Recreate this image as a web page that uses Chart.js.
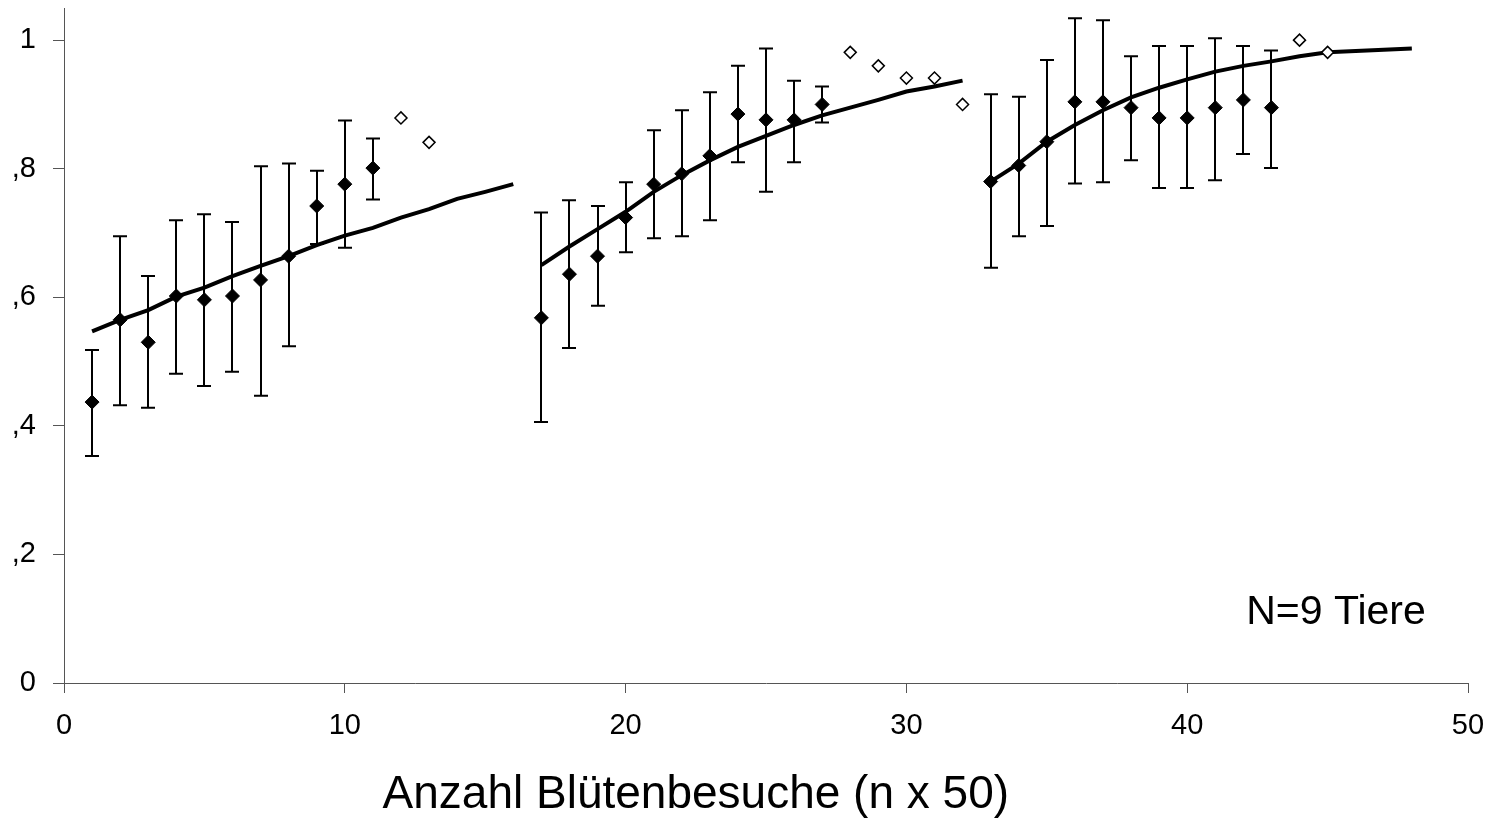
<!DOCTYPE html>
<html>
<head>
<meta charset="utf-8">
<script src="https://cdn.jsdelivr.net/npm/chart.js@4"></script>
<style>
  body { margin: 0; background: #fff; }
  canvas { display: block; }
</style>
</head>
<body>
<canvas id="chart" width="1495" height="839"></canvas>
<script>
// mittelwerte mit fehlerbalken (gefuellte rauten)
const meanX = [1, 2, 3, 4, 5, 6, 7, 8, 9, 10, 11,
               17, 18, 19, 20, 21, 22, 23, 24, 25, 26, 27,
               33, 34, 35, 36, 37, 38, 39, 40, 41, 42, 43];
const meanY = [0.437, 0.565, 0.530, 0.602, 0.596, 0.602, 0.627, 0.664, 0.742, 0.776, 0.801,
               0.568, 0.636, 0.664, 0.724, 0.776, 0.792, 0.820, 0.885, 0.876, 0.876, 0.900,
               0.780, 0.805, 0.842, 0.904, 0.904, 0.895, 0.879, 0.879, 0.895, 0.907, 0.895];
const errHigh = [0.518, 0.695, 0.633, 0.720, 0.729, 0.717, 0.804, 0.808, 0.797, 0.875, 0.847,
                 0.732, 0.751, 0.742, 0.779, 0.860, 0.891, 0.919, 0.960, 0.987, 0.937, 0.928,
                 0.916, 0.912, 0.969, 1.034, 1.031, 0.975, 0.991, 0.991, 1.003, 0.991, 0.984];
const errLow = [0.353, 0.432, 0.428, 0.481, 0.462, 0.484, 0.447, 0.524, 0.683, 0.677, 0.752,
                0.406, 0.521, 0.587, 0.670, 0.692, 0.695, 0.720, 0.810, 0.764, 0.810, 0.872,
                0.646, 0.695, 0.711, 0.777, 0.779, 0.813, 0.770, 0.770, 0.782, 0.823, 0.801];

// einzelwerte ohne fehlerbalken (offene rauten)
const openX = [12, 13, 28, 29, 30, 31, 32, 44, 45];
const openY = [0.879, 0.841, 0.981, 0.960, 0.941, 0.941, 0.900, 1.000, 0.981];

// angepasste kurven
const fitX1 = [1, 2, 3, 4, 5, 6, 7, 8, 9, 10, 11, 12, 13, 14, 15, 16];
const fitY1 = [0.547, 0.565, 0.580, 0.601, 0.615, 0.633, 0.649, 0.664, 0.681, 0.696, 0.708, 0.724, 0.737, 0.753, 0.764, 0.776];
const fitX2 = [17, 18, 19, 20, 21, 22, 23, 24, 25, 26, 27, 28, 29, 30, 31, 32];
const fitY2 = [0.650, 0.679, 0.706, 0.733, 0.764, 0.790, 0.813, 0.834, 0.851, 0.868, 0.883, 0.895, 0.907, 0.920, 0.928, 0.937];
const fitX3 = [33, 34, 35, 36, 37, 38, 39, 40, 41, 42, 43, 44, 45, 46, 47, 48];
const fitY3 = [0.780, 0.808, 0.842, 0.868, 0.891, 0.911, 0.926, 0.939, 0.951, 0.960, 0.967, 0.975, 0.981, 0.983, 0.985, 0.987];

// achsen
const xTicks = [0, 10, 20, 30, 40, 50];
const yTicks = [0, 0.2, 0.4, 0.6, 0.8, 1];
const yTickLabels = ['0', ',2', ',4', ',6', ',8', '1'];
const xTitle = 'Anzahl Blütenbesuche (n x 50)';
const noteText = 'N=9 Tiere';

const FONT = 'Arial, "Liberation Sans", sans-serif';
const toPoints = (xs, ys) => xs.map((x, i) => ({ x: x, y: ys[i] }));

function fitDataset(xs, ys) {
    return {
        data: toPoints(xs, ys),
        showLine: true,
        borderColor: '#000',
        borderWidth: 4,
        pointRadius: 0,
        tension: 0,
        fill: false,
        order: 3
    };
}

// fehlerbalken hinter den rauten
const errorBars = {
    id: 'errorBars',
    beforeDatasetsDraw(chart) {
        const { ctx, scales: { x, y } } = chart;
        ctx.save();
        ctx.strokeStyle = '#000';
        ctx.lineWidth = 2;
        meanX.forEach((v, i) => {
            const px = Math.round(x.getPixelForValue(v));
            const top = y.getPixelForValue(errHigh[i]);
            const bot = y.getPixelForValue(errLow[i]);
            ctx.beginPath();
            ctx.moveTo(px, top);
            ctx.lineTo(px, bot);
            ctx.moveTo(px - 7, top);
            ctx.lineTo(px + 7, top);
            ctx.moveTo(px - 7, bot);
            ctx.lineTo(px + 7, bot);
            ctx.stroke();
        });
        ctx.restore();
    }
};

// achsentitel und hinweis
const texts = {
    id: 'texts',
    afterDraw(chart) {
        const { ctx, chartArea, scales: { x, y } } = chart;
        ctx.save();
        ctx.fillStyle = '#000';
        ctx.textBaseline = 'middle';
        ctx.textAlign = 'center';
        ctx.font = '46px ' + FONT;
        ctx.fillText(xTitle, x.getPixelForValue(22.5), chartArea.bottom + 112);
        ctx.textAlign = 'left';
        ctx.font = '41px ' + FONT;
        ctx.fillText(noteText, x.getPixelForValue(42.1), y.getPixelForValue(0.11));
        ctx.restore();
    }
};

new Chart(document.getElementById('chart'), {
    type: 'scatter',
    data: {
        datasets: [
            fitDataset(fitX1, fitY1),
            fitDataset(fitX2, fitY2),
            fitDataset(fitX3, fitY3),
            {
                data: toPoints(meanX, meanY),
                pointStyle: 'rectRot',
                pointRadius: 7,
                backgroundColor: '#000',
                borderColor: '#000',
                borderWidth: 1,
                order: 1
            },
            {
                data: toPoints(openX, openY),
                pointStyle: 'rectRot',
                pointRadius: 6,
                backgroundColor: '#fff',
                borderColor: '#000',
                borderWidth: 1.5,
                order: 1
            }
        ]
    },
    options: {
        responsive: false,
        animation: false,
        layout: { padding: { left: 0, right: 27, top: 8, bottom: 0 } },
        plugins: {
            legend: { display: false },
            tooltip: { enabled: false }
        },
        scales: {
            x: {
                type: 'linear',
                min: 0,
                max: 50,
                afterFit: (s) => { s.height = 156; s.paddingLeft = 0; s.paddingRight = 0; },
                afterBuildTicks: (s) => { s.ticks = xTicks.map(v => ({ value: v })); },
                grid: { drawOnChartArea: false, color: '#555', tickLength: 10, tickColor: '#555' },
                border: { color: '#555', width: 1 },
                ticks: { color: '#000', font: { family: FONT, size: 29 }, padding: 16, maxRotation: 0 }
            },
            y: {
                type: 'linear',
                min: 0,
                max: 1.05,
                afterFit: (s) => { s.width = 64; s.paddingTop = 0; s.paddingBottom = 0; },
                afterBuildTicks: (s) => { s.ticks = yTicks.map(v => ({ value: v })); },
                grid: { drawOnChartArea: false, color: '#555', tickLength: 11, tickColor: '#555' },
                border: { color: '#555', width: 1 },
                ticks: {
                    color: '#000',
                    font: { family: FONT, size: 29 },
                    padding: 17,
                    callback: (v) => yTickLabels[yTicks.indexOf(Math.round(v * 10) / 10)]
                }
            }
        }
    },
    plugins: [errorBars, texts]
});
</script>
</body>
</html>
